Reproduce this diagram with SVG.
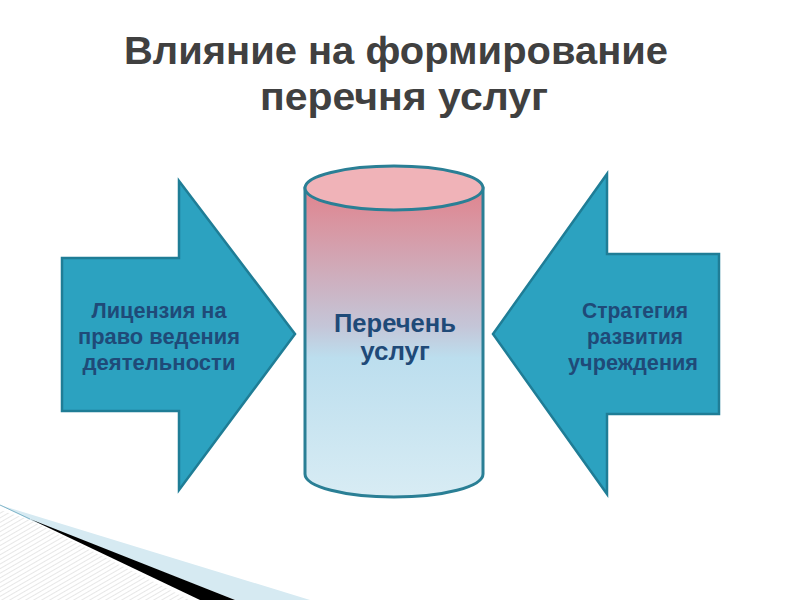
<svg xmlns="http://www.w3.org/2000/svg" width="800" height="600" viewBox="0 0 800 600">
<defs>
<style>
.title{font-family:"Liberation Sans",Arial,sans-serif;font-weight:bold;font-size:39px;fill:#404040;text-anchor:middle}
.lbl{font-family:"Liberation Sans",Arial,sans-serif;font-weight:bold;font-size:21.5px;fill:#1f4a78;text-anchor:middle}
.cyl{font-family:"Liberation Sans",Arial,sans-serif;font-weight:bold;font-size:26px;fill:#1f4a78;text-anchor:middle}
.arrow{fill:#2ca2c0;stroke:#1f7d96;stroke-width:2.5;stroke-linejoin:miter}
.cylline{stroke:#2a7f95;stroke-width:3}
</style>
<linearGradient id="body" x1="0" y1="0" x2="0" y2="1">
<stop offset="0" stop-color="#e0848e"/>
<stop offset="0.45" stop-color="#c4c6d8"/>
<stop offset="0.55" stop-color="#bcdeee"/>
<stop offset="1" stop-color="#d8ecf4"/>
</linearGradient>
<pattern id="hatch" width="4" height="4" patternUnits="userSpaceOnUse" patternTransform="rotate(60)">
<rect width="4" height="4" fill="#ffffff"/>
<line x1="0" y1="0" x2="0" y2="4" stroke="#d0d0d0" stroke-width="1"/>
</pattern>
</defs>
<rect width="800" height="600" fill="#ffffff"/>
<g id="title">
<text class="title" x="396" y="64" textLength="544" lengthAdjust="spacingAndGlyphs">Влияние на формирование</text>
<text class="title" x="404" y="110" textLength="288" lengthAdjust="spacingAndGlyphs">перечня услуг</text>
</g>
<g id="decor">
<polygon points="0,510 30,520 190,600 0,600" fill="url(#hatch)"/>
<polygon points="0,505 310,600 235,600 30,520" fill="#d6eaf2"/>
<polygon points="30,519 235,600 200,600" fill="#000000"/>
<line x1="0" y1="505" x2="30" y2="519" stroke="#7fb4c8" stroke-width="1"/>
</g>
<g id="connectors"></g>
<g id="node-left">
<polygon class="arrow" points="62,258 179,258 179,181 295,334 179,490 179,411 62,411"/>
<text class="lbl" x="159" y="318" textLength="135" lengthAdjust="spacingAndGlyphs">Лицензия на</text>
<text class="lbl" x="159" y="344" textLength="162" lengthAdjust="spacingAndGlyphs">право ведения</text>
<text class="lbl" x="159" y="370" textLength="153" lengthAdjust="spacingAndGlyphs">деятельности</text>
</g>
<g id="node-right">
<polygon class="arrow" points="719,254 607,254 607,174 493,334 607,494 607,414 719,414"/>
<text class="lbl" x="635" y="318" textLength="106" lengthAdjust="spacingAndGlyphs">Стратегия</text>
<text class="lbl" x="635" y="344" textLength="96" lengthAdjust="spacingAndGlyphs">развития</text>
<text class="lbl" x="633" y="370" textLength="130" lengthAdjust="spacingAndGlyphs">учреждения</text>
</g>
<g id="node-center">
<path d="M305,188 L305,474 A89,23 0 0 0 483,474 L483,188 Z" fill="url(#body)" class="cylline"/>
<ellipse cx="394" cy="188" rx="89" ry="22" fill="#f0b3b8" class="cylline"/>
<text class="cyl" x="395" y="332" textLength="122" lengthAdjust="spacingAndGlyphs">Перечень</text>
<text class="cyl" x="395" y="360">услуг</text>
</g>
</svg>
